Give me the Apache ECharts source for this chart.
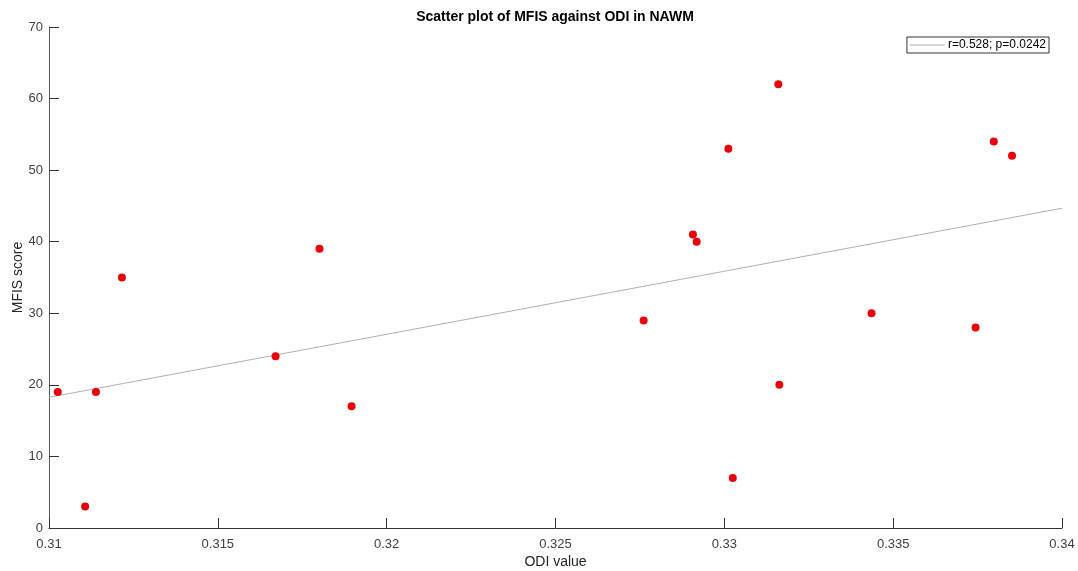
<!DOCTYPE html>
<html>
<head>
<meta charset="utf-8">
<title>Scatter plot of MFIS against ODI in NAWM</title>
<script src="https://cdn.jsdelivr.net/npm/echarts@6/dist/echarts.min.js"></script>
<style>
  html, body { margin: 0; padding: 0; background: #fff; }
  #chart { width: 1078px; height: 571px; }
</style>
</head>
<body>
<div id="chart"></div>
<script>
// ODI value and MFIS score for each subject (NAWM)
const odiValues = [
  0.31026, 0.31139, 0.31216, 0.31671, 0.31107, 0.31801, 0.31896, 0.32761, 0.32907,
  0.32918, 0.33012, 0.33025, 0.33160, 0.33163, 0.33436, 0.33744, 0.33798, 0.33852
];
const mfisScores = [
  19, 19, 35, 24, 3, 39, 17, 29, 41,
  40, 53, 7, 62, 20, 30, 28, 54, 52
];

const xTicks = [0.31, 0.315, 0.32, 0.325, 0.33, 0.335, 0.34];
const yTicks = [0, 10, 20, 30, 40, 50, 60, 70];
const fitLabel = 'r=0.528; p=0.0242';

// Least-squares line through the points, drawn across the x range
function linearFit(xs, ys) {
  const n = xs.length;
  const mx = xs.reduce((a, b) => a + b, 0) / n;
  const my = ys.reduce((a, b) => a + b, 0) / n;
  let sxy = 0, sxx = 0;
  for (let i = 0; i < n; i++) {
    sxy += (xs[i] - mx) * (ys[i] - my);
    sxx += (xs[i] - mx) * (xs[i] - mx);
  }
  const slope = sxy / sxx;
  return x => my + slope * (x - mx);
}
const fit = linearFit(odiValues, mfisScores);
const xMin = xTicks[0], xMax = xTicks[xTicks.length - 1];
const fitLine = [[xMin, fit(xMin)], [xMax, fit(xMax)]];

const FONT = '"Liberation Sans", Arial, Helvetica, sans-serif';
const chart = echarts.init(document.getElementById('chart'), null, { renderer: 'canvas' });

chart.setOption({
  animation: false,
  backgroundColor: '#ffffff',
  textStyle: { fontFamily: FONT },
  title: {
    text: 'Scatter plot of MFIS against ODI in NAWM',
    left: 550,
    textAlign: 'center',
    top: 5,
    textStyle: { fontFamily: FONT, fontSize: 14, fontWeight: 'bold', color: '#000' }
  },
  legend: {
    data: [fitLabel],
    right: 29,
    top: 37,
    orient: 'horizontal',
    icon: 'rect',
    itemWidth: 35,
    itemHeight: 1,
    itemGap: 0,
    padding: [2, 3, 2, 3],
    borderColor: '#333',
    borderWidth: 1,
    backgroundColor: '#fff',
    textStyle: { fontFamily: FONT, fontSize: 12, color: '#000', padding: [0, 0, 0, -2] }
  },
  grid: { left: 49, right: 16, top: 27, bottom: 43, containLabel: false, outerBoundsMode: 'none' },
  xAxis: {
    type: 'value',
    min: xMin,
    max: xMax,
    interval: 0.005,
    name: 'ODI value',
    nameLocation: 'middle',
    nameGap: 27,
    nameMoveOverlap: false,
    nameTextStyle: { fontFamily: FONT, fontSize: 14, color: '#262626' },
    axisLine: { show: true, onZero: false, lineStyle: { color: '#333', width: 1 } },
    axisTick: { show: true, inside: true, length: 10, lineStyle: { color: '#333' } },
    axisLabel: {
      fontFamily: FONT, fontSize: 13, color: '#404040', margin: 10,
      formatter: v => String(parseFloat(v.toFixed(4)))
    },
    splitLine: { show: false }
  },
  yAxis: {
    type: 'value',
    min: yTicks[0],
    max: yTicks[yTicks.length - 1],
    interval: 10,
    name: 'MFIS score',
    nameLocation: 'middle',
    nameGap: 24,
    nameMoveOverlap: false,
    nameTextStyle: { fontFamily: FONT, fontSize: 14, color: '#262626' },
    axisLine: { show: true, onZero: false, lineStyle: { color: '#5a5a5a', width: 1 } },
    axisTick: { show: true, inside: true, length: 10, lineStyle: { color: '#333' } },
    axisLabel: { fontFamily: FONT, fontSize: 13, color: '#404040', margin: 6 },
    splitLine: { show: false }
  },
  series: [
    {
      name: fitLabel,
      type: 'line',
      data: fitLine,
      showSymbol: false,
      symbol: 'none',
      lineStyle: { color: '#b0b0b0', width: 1 },
      itemStyle: { color: '#b0b0b0' },
      z: 1
    },
    {
      name: 'subjects',
      type: 'scatter',
      data: odiValues.map((x, i) => [x, mfisScores[i]]),
      symbol: 'circle',
      symbolSize: 8,
      itemStyle: { color: '#e8000b', opacity: 1 },
      z: 2
    }
  ]
});
</script>
</body>
</html>
